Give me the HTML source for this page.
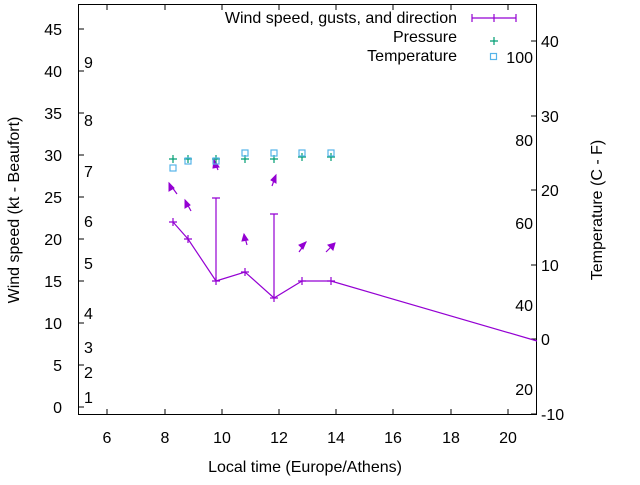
<!DOCTYPE html>
<html><head><style>body{margin:0;background:#fff}svg text{font-family:"Liberation Sans",sans-serif;font-size:16px;fill:#000}</style></head><body>
<svg width="640" height="480" viewBox="0 0 640 480">
<g stroke="#000" stroke-width="1" fill="none">
<rect x="78.5" y="4.5" width="458" height="410"/>
<path d="M78 407h6M78 365h6M78 323h6M78 281h6M78 239h6M78 197h6M78 155h6M78 113h6M78 71h6M78 29h6"/>
<path d="M107 415v-6M165 415v-6M222 415v-6M279 415v-6M336 415v-6M393 415v-6M451 415v-6M508 415v-6"/>
<path d="M107 4v6M165 4v6M222 4v6M279 4v6M336 4v6M393 4v6M451 4v6M508 4v6"/>
<path d="M537 41h-6M537 116h-6M537 190h-6M537 265h-6M537 339h-6M537 414h-6"/>
</g>
<g text-anchor="end">
<text x="62" y="413">0</text><text x="62" y="371">5</text><text x="62" y="329">10</text><text x="62" y="287">15</text><text x="62" y="245">20</text><text x="62" y="203">25</text><text x="62" y="161">30</text><text x="62" y="119">35</text><text x="62" y="77">40</text><text x="62" y="35">45</text>
</g>
<g text-anchor="middle">
<text x="107" y="443">6</text><text x="165" y="443">8</text><text x="222" y="443">10</text><text x="279" y="443">12</text><text x="336" y="443">14</text><text x="393" y="443">16</text><text x="451" y="443">18</text><text x="508" y="443">20</text>
<text x="305" y="472">Local time (Europe/Athens)</text>
</g>
<g>
<text x="541" y="47">40</text><text x="541" y="122">30</text><text x="541" y="196">20</text><text x="541" y="271">10</text><text x="541" y="345">0</text><text x="541" y="420">-10</text>
</g>
<g>
<text x="84" y="403">1</text><text x="84" y="378">2</text><text x="84" y="353">3</text><text x="84" y="319">4</text><text x="84" y="269">5</text><text x="84" y="227">6</text><text x="84" y="177">7</text><text x="84" y="126">8</text><text x="84" y="68">9</text>
</g>
<g text-anchor="end">
<text x="533" y="63">100</text><text x="533" y="146">80</text><text x="533" y="229">60</text><text x="533" y="311">40</text><text x="533" y="395">20</text>
<text x="457" y="23">Wind speed, gusts, and direction</text><text x="457" y="42">Pressure</text><text x="457" y="61">Temperature</text>
</g>
<text transform="translate(19,210) rotate(-90)" text-anchor="middle">Wind speed (kt - Beaufort)</text>
<text transform="translate(602,210) rotate(-90)" text-anchor="middle">Temperature (C - F)</text>
<g stroke="#9400d3" stroke-width="1.2" fill="none">
<path d="M472 18h44M472 14v8M516 14v8M494 14v8"/>
<polyline points="173,222 188,239 216,281 245,272 274,298 302,281 331,281 537,341"/>
<path d="M216 281V198M212 198h8M274 298V214M270 214h8"/>
<path d="M169 222h8M173 218v8M184 239h8M188 235v8M212 281h8M216 277v8M241 272h8M245 268v8M270 298h8M274 294v8M298 281h8M302 277v8M327 281h8M331 277v8"/>
<path d="M177 194L169 183M191 211L185 200M218 170L214 160M247 245L244 234M272 186L276 175M299 252L306 242M326 252L335 243"/>
</g>
<g fill="#9400d3" stroke="#9400d3" stroke-width="1">
<path d="M169 183l0 8 5-3z"/><path d="M185 200l0 8 5-3z"/><path d="M214 160l-1 8 6-1z"/><path d="M244 234l-2 7 6-1z"/><path d="M276 175l-5 5 5 3z"/><path d="M306 242l-7 3 4 4z"/><path d="M335 243l-7 2 5 5z"/>
</g>
<g stroke="#009e73" stroke-width="1.2">
<path d="M490 41h8M494 37v8"/>
<path d="M169 159h8M173 155v8M184 159h8M188 155v8M212 159h8M216 155v8M241 159h8M245 155v8M270 159h8M274 155v8M298 157h8M302 153v8M327 157h8M331 153v8"/>
</g>
<g stroke="#56b4e9" stroke-width="1.2" fill="none">
<rect x="490.5" y="53.5" width="6" height="6"/>
<rect x="170" y="165" width="6" height="6"/><rect x="185" y="158" width="6" height="6"/><rect x="213" y="158" width="6" height="6"/><rect x="242" y="150" width="6" height="6"/><rect x="271" y="150" width="6" height="6"/><rect x="299" y="150" width="6" height="6"/><rect x="328" y="150" width="6" height="6"/>
</g>
</svg>
</body></html>
